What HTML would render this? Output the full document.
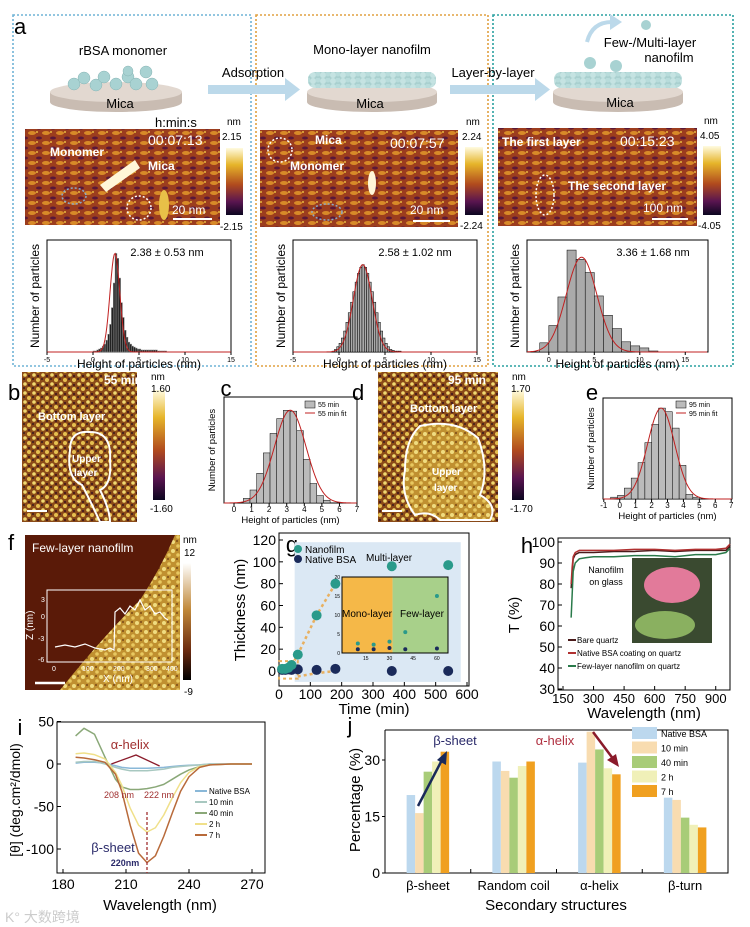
<!DOCTYPE html>
<html><head><meta charset="utf-8"><style>
html,body{margin:0;padding:0;background:#fff}
svg{display:block;font-family:"Liberation Sans",sans-serif}
</style></head><body>
<svg id="fig" width="750" height="927" viewBox="0 0 750 927" xmlns="http://www.w3.org/2000/svg">
<defs>
<linearGradient id="afmbar" x1="0" y1="0" x2="0" y2="1"><stop offset="0" stop-color="#fffbe0"/><stop offset=".25" stop-color="#e6b52a"/><stop offset=".55" stop-color="#b04a1e"/><stop offset=".8" stop-color="#5a1550"/><stop offset="1" stop-color="#0c0620"/></linearGradient>
<linearGradient id="fbar" x1="0" y1="0" x2="0" y2="1"><stop offset="0" stop-color="#fff"/><stop offset=".4" stop-color="#c0883a"/><stop offset=".75" stop-color="#6a2a10"/><stop offset="1" stop-color="#000"/></linearGradient>
<pattern id="tex1" width="14" height="10" patternUnits="userSpaceOnUse"><rect width="14" height="10" fill="#9c3d1e"/><ellipse cx="4" cy="3" rx="4" ry="2" fill="#d88a28"/><ellipse cx="11" cy="8" rx="3" ry="1.5" fill="#5a1838"/><circle cx="9" cy="2" r="1" fill="#e8b840"/></pattern>
<pattern id="tex2" width="9" height="9" patternUnits="userSpaceOnUse"><rect width="9" height="9" fill="#8a4a18"/><circle cx="2" cy="2" r="2" fill="#e6c050"/><circle cx="7" cy="6" r="1.8" fill="#f0d870"/><circle cx="6" cy="1" r="1" fill="#3a1a20"/><circle cx="2" cy="7" r="1.2" fill="#4a1c1c"/></pattern>
<pattern id="tex3" width="9" height="9" patternUnits="userSpaceOnUse"><rect width="9" height="9" fill="#c09030"/><circle cx="2" cy="2" r="2" fill="#f0dc80"/><circle cx="7" cy="6" r="1.8" fill="#e8c860"/><circle cx="6" cy="1" r="1" fill="#7a4a18"/></pattern>
<pattern id="bead" width="10" height="6" patternUnits="userSpaceOnUse"><rect width="10" height="6" fill="#a9d0cf"/><circle cx="3" cy="3" r="3" fill="#c5e3e2"/><circle cx="8" cy="2" r="2.5" fill="#b8dcdb"/></pattern>
</defs>

<g>
<rect x="13" y="15" width="238" height="351" fill="none" stroke="#6fb3d6" stroke-width="1.6" stroke-dasharray="2,2"/>
<rect x="256" y="15" width="232" height="351" fill="none" stroke="#e0a040" stroke-width="1.6" stroke-dasharray="2,2"/>
<rect x="493" y="15" width="240" height="351" fill="none" stroke="#2aa0a0" stroke-width="1.6" stroke-dasharray="2,2"/>
<text x="14" y="34" font-size="22">a</text>
<text x="123" y="55" font-size="13" text-anchor="middle">rBSA monomer</text>
<text x="372" y="54" font-size="13" text-anchor="middle">Mono-layer nanofilm</text>
<text x="650" y="47" font-size="13" text-anchor="middle">Few-/Multi-layer</text>
<text x="669" y="62" font-size="13" text-anchor="middle">nanofilm</text>
<text x="253" y="77" font-size="13" text-anchor="middle">Adsorption</text>
<text x="493" y="77" font-size="13" text-anchor="middle">Layer-by-layer</text>
<g fill="#bcd9ea">
<rect x="208" y="85" width="80" height="9"/><polygon points="285,78 300,89.5 285,101"/>
<rect x="450" y="85" width="90" height="9"/><polygon points="535,78 550,89.5 535,101"/>
<path d="M587,42 Q592,22 612,22" fill="none" stroke="#bcd9ea" stroke-width="4"/><polygon points="610,14 622,22 610,30"/>
</g>
<g>
<path d="M50,92 L50,102 A66,10 0 0 0 182,102 L182,92 Z" fill="#c9bcb2"/><ellipse cx="116" cy="92" rx="66" ry="10" fill="#e2d8d0"/>
<path d="M307,92 L307,102 A65,10 0 0 0 437,102 L437,92 Z" fill="#c9bcb2"/><ellipse cx="372" cy="92" rx="65" ry="10" fill="#e2d8d0"/>
<path d="M553,92 L553,102 A65,10 0 0 0 683,102 L683,92 Z" fill="#c9bcb2"/><ellipse cx="618" cy="92" rx="65" ry="10" fill="#e2d8d0"/>
<g fill="#a8d2d2" stroke="#88b4b4" stroke-width=".5"><circle cx="74" cy="84" r="6"/><circle cx="84" cy="78" r="6"/><circle cx="96" cy="85" r="6"/><circle cx="104" cy="77" r="6"/><circle cx="116" cy="84" r="6"/><circle cx="128" cy="77" r="6"/><circle cx="136" cy="84" r="6"/><circle cx="146" cy="72" r="6"/><circle cx="152" cy="84" r="6"/><circle cx="128" cy="71" r="5"/></g>
<rect x="308" y="72" width="128" height="16" rx="7" fill="url(#bead)"/>
<rect x="554" y="72" width="128" height="16" rx="7" fill="url(#bead)"/>
<circle cx="590" cy="63" r="6" fill="#a8d2d2"/><circle cx="616" cy="66" r="6" fill="#a8d2d2"/><circle cx="646" cy="25" r="5" fill="#a8d2d2"/>
<text x="120" y="108" font-size="13" text-anchor="middle">Mica</text>
<text x="370" y="108" font-size="13" text-anchor="middle">Mica</text>
<text x="620" y="107" font-size="13" text-anchor="middle">Mica</text>
</g>
<g>
<rect x="25" y="129" width="195" height="96" fill="url(#tex1)"/>
<path d="M100,185 L135,160 L140,168 L106,192Z" fill="#fff6d8"/>
<ellipse cx="164" cy="205" rx="5" ry="15" fill="#e8c048"/>
<ellipse cx="74" cy="196" rx="12" ry="8" fill="none" stroke="#8aa8c8" stroke-dasharray="2,2" stroke-width="1.5"/>
<circle cx="139" cy="208" r="12" fill="none" stroke="#fff" stroke-dasharray="2,2" stroke-width="1.5"/>
<text x="50" y="156" font-size="12" font-weight="bold" fill="#fff">Monomer</text>
<text x="148" y="170" font-size="12" font-weight="bold" fill="#fff">Mica</text>
<text x="148" y="145" font-size="14" fill="#fff">00:07:13</text>
<text x="155" y="127" font-size="13">h:min:s</text>
<line x1="173" y1="219" x2="212" y2="219" stroke="#fff" stroke-width="2"/><text x="172" y="214" font-size="12" fill="#fff">20 nm</text>
<rect x="226" y="148" width="17" height="67" fill="url(#afmbar)"/>
<text x="227" y="125" font-size="10">nm</text><text x="222" y="140" font-size="10">2.15</text><text x="220" y="230" font-size="10">-2.15</text>
</g>
<g>
<rect x="260" y="130" width="198" height="97" fill="url(#tex1)"/>
<ellipse cx="372" cy="183" rx="4" ry="12" fill="#fff6d8"/>
<ellipse cx="280" cy="150" rx="12" ry="12" fill="none" stroke="#fff" stroke-dasharray="2,2" stroke-width="1.5"/>
<ellipse cx="327" cy="212" rx="15" ry="8" fill="none" stroke="#8aa8c8" stroke-dasharray="2,2" stroke-width="1.5"/>
<text x="315" y="144" font-size="12" font-weight="bold" fill="#fff">Mica</text>
<text x="290" y="170" font-size="12" font-weight="bold" fill="#fff">Monomer</text>
<text x="390" y="148" font-size="14" fill="#fff">00:07:57</text>
<line x1="413" y1="221" x2="450" y2="221" stroke="#fff" stroke-width="2"/><text x="410" y="214" font-size="12" fill="#fff">20 nm</text>
<rect x="465" y="147" width="18" height="68" fill="url(#afmbar)"/>
<text x="466" y="125" font-size="10">nm</text><text x="462" y="140" font-size="10">2.24</text><text x="460" y="229" font-size="10">-2.24</text>
</g>
<g>
<rect x="498" y="128" width="199" height="98" fill="url(#tex1)"/>
<ellipse cx="545" cy="195" rx="9" ry="20" fill="none" stroke="#fff" stroke-dasharray="2,2" stroke-width="1.5"/>
<text x="502" y="146" font-size="12" font-weight="bold" fill="#fff">The first layer</text>
<text x="568" y="190" font-size="12" font-weight="bold" fill="#fff">The second layer</text>
<text x="620" y="146" font-size="14" fill="#fff">00:15:23</text>
<line x1="652" y1="219" x2="688" y2="219" stroke="#fff" stroke-width="2"/><text x="643" y="212" font-size="12" fill="#fff">100 nm</text>
<rect x="703" y="146" width="18" height="69" fill="url(#afmbar)"/>
<text x="704" y="124" font-size="10">nm</text><text x="700" y="139" font-size="10">4.05</text><text x="698" y="229" font-size="10">-4.05</text>
</g>
</g>

<g>
<text x="8" y="400" font-size="22">b</text>
<rect x="22" y="372" width="115" height="150" fill="url(#tex2)"/>
<path d="M70,450 Q70,430 90,432 Q112,432 110,460 Q112,485 100,490 Q110,510 110,522 L100,522 Q90,500 82,485 Q66,478 70,450Z" fill="none" stroke="#fff" stroke-width="2"/>
<text x="104" y="384" font-size="12" font-weight="bold" fill="#fff">55 min</text>
<text x="38" y="420" font-size="11" font-weight="bold" fill="#fff">Bottom layer</text>
<text x="72" y="462" font-size="10" font-weight="bold" fill="#fff">Upper</text><text x="74" y="476" font-size="10" font-weight="bold" fill="#fff">layer</text>
<line x1="27" y1="511" x2="47" y2="511" stroke="#fff" stroke-width="2"/>
<rect x="153" y="390" width="12" height="110" fill="url(#afmbar)"/>
<text x="151" y="380" font-size="10">nm</text><text x="151" y="392" font-size="10">1.60</text><text x="150" y="512" font-size="10">-1.60</text>
</g>
<g>
<text x="352" y="400" font-size="22">d</text>
<rect x="378" y="372" width="120" height="150" fill="url(#tex2)"/>
<path d="M420,426 Q455,418 478,438 Q490,470 480,495 Q498,505 490,520 L440,520 Q430,510 415,515 Q400,495 405,470 Q405,440 420,426Z" fill="url(#tex3)" stroke="#fff" stroke-width="2"/>
<text x="448" y="384" font-size="12" font-weight="bold" fill="#fff">95 min</text>
<text x="410" y="412" font-size="11" font-weight="bold" fill="#fff">Bottom layer</text>
<text x="432" y="475" font-size="10" font-weight="bold" fill="#fff">Upper</text><text x="434" y="491" font-size="10" font-weight="bold" fill="#fff">layer</text>
<line x1="382" y1="511" x2="402" y2="511" stroke="#fff" stroke-width="2"/>
<rect x="512" y="390" width="12" height="110" fill="url(#afmbar)"/>
<text x="512" y="380" font-size="10">nm</text><text x="511" y="392" font-size="10">1.70</text><text x="510" y="512" font-size="10">-1.70</text>
</g>

<g>
<text x="8" y="550" font-size="22">f</text>
<rect x="25" y="535" width="155" height="155" fill="#5a1a08"/>
<path d="M175,535 L180,535 L180,690 L60,690 Q100,640 140,600 Q160,570 175,535Z" fill="url(#tex3)"/>
<text x="32" y="552" font-size="12" fill="#fff">Few-layer nanofilm</text>
<rect x="47" y="590" width="125" height="72" fill="none" stroke="#fff" stroke-width="1"/>
<polyline points="55,647 65,645 75,647 85,644 95,648 105,650 110,648 114,650 115,612 120,608 125,614 130,606 135,610 140,600 145,610 150,606 155,614 160,612 165,618 168,620" fill="none" stroke="#fff" stroke-width="1.2"/>
<text x="41" y="602" font-size="7" fill="#fff">3</text><text x="41" y="619" font-size="7" fill="#fff">0</text><text x="38" y="641" font-size="7" fill="#fff">-3</text><text x="38" y="662" font-size="7" fill="#fff">-6</text>
<text x="52" y="671" font-size="7" fill="#fff">0</text><text x="82" y="671" font-size="7" fill="#fff">100</text><text x="113" y="671" font-size="7" fill="#fff">200</text><text x="146" y="671" font-size="7" fill="#fff">300</text><text x="166" y="671" font-size="7" fill="#fff">400</text>
<text x="103" y="682" font-size="10" fill="#fff">X (nm)</text>
<text x="33" y="640" font-size="10" fill="#fff" transform="rotate(-90 33 640)">Z (nm)</text>
<line x1="35" y1="683" x2="65" y2="683" stroke="#fff" stroke-width="2.5"/>
<rect x="183" y="563" width="8" height="117" fill="url(#fbar)"/>
<text x="183" y="543" font-size="10">nm</text><text x="184" y="556" font-size="10">12</text><text x="184" y="695" font-size="10">-9</text>
</g>

<g id="charts"></g>
<text x="5" y="922" font-size="14" fill="#ccc">K° 大数跨境</text>
</svg>
<script>
// ---------- DATA ----------
const histA1Counts=[1,1,2,3,4,6,8,12,18,28,45,70,100,95,75,50,35,22,15,10,8,6,5,4,3,3,2,2,2,2,2,2,2,2,2,1,1,1,1,1];
const histA2Counts=[1,3,6,10,16,24,34,45,57,69,80,90,97,100,97,90,80,69,57,45,34,24,16,10,6,3,2,1,1,1];
const histA3Counts=[9,26,54,100,91,78,55,36,23,10,6,4,1];
const histCCounts=[5,14,32,54,75,91,100,99,78,47,21,8,3];
const histECounts=[2,4,12,23,40,62,82,100,96,78,37,5,2];
const histTicksA=[-5,0,5,10,15];
const histTicksA3=[0,5,10,15];
const histTicksC=[0,1,2,3,4,5,6,7];
const histTicksE=[-1,0,1,2,3,4,5,6,7];
const fitStats={a1:[2.38,0.53],a2:[2.58,1.02],a3:[3.6,1.68],c:[3.2,0.9],e:[2.6,0.85]};

const gTime=[10,20,30,40,60,120,180,360,540];
const gNanofilm=[2,2,3,5.5,15,51,80,96,97];
const gNative=[1,1,1.5,1,1.5,1,2,0,0];
const gTicksX=[0,100,200,300,400,500,600];
const gTicksY=[0,20,40,60,80,100,120];
const gInsetTime=[10,20,30,40,60];
const gInsetFilm=[2.5,2.2,3.0,5.5,15];
const gInsetNative=[1,1,1.3,1,1.2];

const hWave=[190,195,200,210,230,260,300,400,500,600,700,800,900,950,970];
const hBare=[78,85,92,94,95,95,95,95.5,95.5,96,95.5,96,96,96,98];
const hNative=[80,88,93,95,96,96,96,96,96.5,96.5,96,96.5,96.5,97,99];
const hFew=[64,75,86,90,92,92.5,93,93,93.5,93.5,93,94,94,95,97];
const hTicksX=[150,300,450,600,750,900];
const hTicksY=[30,40,50,60,70,80,90,100];

const iWave=[186,190,195,200,205,208,212,216,220,224,228,232,236,240,245,250,260,270];
const iNative=[1,2,2,1,-2,-4,-5,-5,-5,-4.5,-4,-3,-2,-1.5,-1,0,0,0];
const i10min=[2,3,3,0,-4,-6,-8,-8,-8,-7,-6,-4,-3,-2,-1,0,0,0];
const i40min=[33,42,35,8,-18,-27,-30,-30,-29,-27,-24,-18,-12,-7,-3,-1,0,0];
const i2h=[12,13,11,6,-10,-25,-52,-72,-80,-75,-60,-40,-22,-10,-3,-1,0,0];
const i7h=[8,7,5,2,-12,-32,-72,-105,-116,-108,-85,-58,-32,-15,-4,-1,0,0];
const iTicksX=[180,210,240,270];
const iTicksY=[-100,-50,0,50];

const jCategories=["β-sheet","Random coil","α-helix","β-turn"];
const jNative=[20.7,29.6,29.3,20];
const j10min=[15.9,27.1,37.5,19.4];
const j40min=[26.9,25.3,32.8,14.7];
const j2h=[29.6,28.4,27.8,12.8];
const j7h=[32.2,29.6,26.2,12.1];
const jTicksY=[0,15,30];

// ---------- helpers ----------
const NS="http://www.w3.org/2000/svg";
const root=document.getElementById('charts');
function mk(tag,parent,name){
  const el=document.createElementNS(NS,tag);
  
  
  parent.appendChild(el);
  return el;
}
function set(el,o){for(const k in o)el.setAttribute(k,o[k]);return el;}
function txt(parent,name,x,y,s,size,anchor,extra){
  const t=mk('text',parent,name);
  set(t,{x:x,y:y,'font-size':size,'text-anchor':anchor||'middle'});
  if(extra)set(t,extra);
  t.textContent=s;return t;
}
function lin(d0,d1,r0,r1){return v=>r0+(v-d0)*(r1-r0)/(d1-d0);}

function histogram(name,box,xd,start,bw,counts,ticks,fit,barFill,opts){
  const g=mk('g',root,name);
  const X=lin(xd[0],xd[1],box.x,box.x+box.w);
  const Y=lin(0,100,box.y+box.h,box.y+box.h*(opts.top||0.1));
  const fr=mk('rect',g,'plot-frame');set(fr,{x:box.x,y:box.y,width:box.w,height:box.h,fill:'none',stroke:'#000','stroke-width':1});
  counts.forEach((c,i)=>{
    const b=mk('rect',g,'histogram-bar');
    const x0=X(start+i*bw),x1=X(start+(i+1)*bw);
    set(b,{x:x0,y:Y(c),width:Math.max(0.5,x1-x0),height:Y(0)-Y(c),fill:barFill,stroke:opts.bs||'#000','stroke-width':0.5});
  });
  const amp=opts.amp||100;
  const pts=[];
  for(let v=xd[0];v<=xd[1];v+=(xd[1]-xd[0])/200){pts.push(X(v)+','+Y(amp*Math.exp(-0.5*Math.pow((v-fit[0])/fit[1],2))));}
  const p=mk('polyline',g,'gaussian-fit');set(p,{points:pts.join(' '),fill:'none',stroke:'#c02020','stroke-width':1});
  ticks.forEach(t=>{
    const l=mk('line',g,'x-tick');set(l,{x1:X(t),x2:X(t),y1:box.y+box.h,y2:box.y+box.h+3,stroke:'#000'});
    txt(g,'x-tick-label',X(t),box.y+box.h+opts.tl,t,opts.fs);
  });
  txt(g,'x-axis-title',box.x+box.w/2,box.y+box.h+opts.xt,'Height of particles (nm)',opts.ts);
  txt(g,'y-axis-title',box.x-opts.yo,box.y+box.h/2,'Number of particles',opts.ts,'middle',{transform:`rotate(-90 ${box.x-opts.yo} ${box.y+box.h/2})`});
  return g;
}
const oA={tl:10,xt:16,yo:8,fs:7,ts:12,top:0.12};
let h1=histogram('histogram-a1',{x:47,y:240,w:184,h:112},[-5,15],0,0.2,histA1Counts,histTicksA,fitStats.a1,'#222',{...oA,bs:'#888'});
txt(h1,'stat-label',167,256,'2.38 ± 0.53 nm',11);
let h2=histogram('histogram-a2',{x:293,y:240,w:184,h:112},[-5,15],-0.75,0.25,histA2Counts,histTicksA,fitStats.a2,'#aaa',{...oA,top:0.22});
txt(h2,'stat-label',415,256,'2.58 ± 1.02 nm',11);
let h3=histogram('histogram-a3',{x:527,y:240,w:181,h:112},[-2.4,17.5],-1,1,histA3Counts,histTicksA3,fitStats.a3,'#aaa',{...oA,top:0.09,amp:93});
txt(h3,'stat-label',653,256,'3.36 ± 1.68 nm',11);
const oC={tl:9,xt:20,yo:9,fs:8,ts:9.5,top:0.125};
let hc=histogram('histogram-c',{x:224,y:397,w:133,h:106},[-0.57,7],0.53,0.38,histCCounts,histTicksC,fitStats.c,'#bbb',oC);
txt(hc,'panel-label',226,396,'c',22,'middle');
let he=histogram('histogram-e',{x:603,y:398,w:129,h:101},[-1.05,7.05],-0.57,0.43,histECounts,histTicksE,fitStats.e,'#bbb',{...oC,top:0.1});
txt(he,'panel-label',592,400,'e',22,'middle');
[[hc,'55 min',305],[he,'95 min',676]].forEach(([g,lab,lx])=>{
  const r=mk('rect',g,'legend-swatch');set(r,{x:lx,y:401,width:10,height:7,fill:'#bbb',stroke:'#000','stroke-width':.5});
  txt(g,'legend-label',lx+13,407,lab,7,'start');
  const l=mk('line',g,'legend-fit-line');set(l,{x1:lx,x2:lx+10,y1:413,y2:413,stroke:'#c02020'});
  txt(g,'legend-label',lx+13,416,lab+' fit',7,'start');
});

// ---------- panel g ----------
(function(){
  const g=mk('g',root,'chart-g');
  const X=lin(0,600,279,467),Y=lin(0,120,671,540);
  txt(g,'panel-label',292,552,'g',22);
  const bg=mk('rect',g,'multilayer-region');set(bg,{x:X(50),y:Y(118),width:X(580)-X(50),height:Y(-10)-Y(118),fill:'#dbe8f4'});
  const fr=mk('rect',g,'plot-frame');set(fr,{x:279,y:533,width:190,height:153,fill:'none',stroke:'#000'});
  gTicksX.forEach(t=>{const l=mk('line',g,'x-tick');set(l,{x1:X(t),x2:X(t),y1:686,y2:682,stroke:'#000'});txt(g,'x-tick-label',X(t),699,t,14);});
  gTicksY.forEach(t=>{const l=mk('line',g,'y-tick');set(l,{x1:279,x2:283,y1:Y(t),y2:Y(t),stroke:'#000'});txt(g,'y-tick-label',276,Y(t)+5,t,14,'end');});
  txt(g,'x-axis-title',374,714,'Time (min)',15);
  txt(g,'y-axis-title',245,610,'Thickness (nm)',15,'middle',{transform:'rotate(-90 245 610)'});
  const tr1=mk('polyline',g,'trend-nanofilm');set(tr1,{points:[[40,5],[60,15],[120,51],[180,80]].map(p=>X(p[0])+','+Y(p[1])).join(' '),fill:'none',stroke:'#e8b060','stroke-width':2.5,'stroke-dasharray':'3,3'});
  const tr2=mk('polyline',g,'trend-native');set(tr2,{points:[[60,-5],[120,-2],[180,0]].map(p=>X(p[0])+','+Y(p[1])).join(' ')+' '+X(190)+','+Y(2),fill:'none',stroke:'#e8b060','stroke-width':2.5,'stroke-dasharray':'3,3'});
  const box=mk('rect',g,'lowtime-box');set(box,{x:X(0),y:Y(9),width:X(60)-X(0),height:Y(-7)-Y(9),fill:'none',stroke:'#e8b060','stroke-width':2,'stroke-dasharray':'3,3'});
  gTime.forEach((t,i)=>{const c=mk('circle',g,'point-native');set(c,{cx:X(t),cy:Y(gNative[i]),r:5,fill:'#1a2a5a'});});
  gTime.forEach((t,i)=>{const c=mk('circle',g,'point-nanofilm');set(c,{cx:X(t),cy:Y(gNanofilm[i]),r:5,fill:'#2a9a8a'});});
  const c1=mk('circle',g,'legend-nanofilm-marker');set(c1,{cx:298,cy:549,r:4,fill:'#2a9a8a'});
  txt(g,'legend-nanofilm',305,553,'Nanofilm',10,'start');
  const c2=mk('circle',g,'legend-native-marker');set(c2,{cx:298,cy:559,r:4,fill:'#1a2a5a'});
  txt(g,'legend-native',305,563,'Native BSA',10,'start');
  txt(g,'multilayer-label',366,561,'Multi-layer',10,'start');
  const IX=lin(0,67,342,448),IY=lin(0,20,653,577);
  const o=mk('rect',g,'inset-monolayer-region');set(o,{x:342,y:577,width:IX(32)-342,height:76,fill:'#f5b848'});
  const gr=mk('rect',g,'inset-fewlayer-region');set(gr,{x:IX(32),y:577,width:448-IX(32),height:76,fill:'#a8d08a'});
  const ifr=mk('rect',g,'inset-frame');set(ifr,{x:342,y:577,width:106,height:76,fill:'none',stroke:'#000'});
  txt(g,'inset-mono-label',367,617,'Mono-layer',10);
  txt(g,'inset-few-label',422,617,'Few-layer',10);
  [15,30,45,60].forEach(t=>txt(g,'inset-x-tick',IX(t),660,t,5));
  [0,5,10,15,20].forEach(t=>txt(g,'inset-y-tick',340,IY(t)+2,t,5,'end'));
  gInsetTime.forEach((t,i)=>{const c=mk('circle',g,'inset-point-native');set(c,{cx:IX(t),cy:IY(gInsetNative[i]),r:2,fill:'#1a2a5a'});});
  gInsetTime.forEach((t,i)=>{const c=mk('circle',g,'inset-point-nanofilm');set(c,{cx:IX(t),cy:IY(gInsetFilm[i]),r:2,fill:'#2a9a8a'});});
})();

// ---------- panel h ----------
(function(){
  const g=mk('g',root,'chart-h');
  const X=lin(150,975,563,731),Y=lin(30,100,689,542);
  txt(g,'panel-label',527,553,'h',22);
  const fr=mk('rect',g,'plot-frame');set(fr,{x:558,y:538,width:172,height:152,fill:'none',stroke:'#000'});
  hTicksX.forEach(t=>{const l=mk('line',g,'x-tick');set(l,{x1:X(t),x2:X(t),y1:690,y2:686,stroke:'#000'});txt(g,'x-tick-label',X(t),703,t,13);});
  hTicksY.forEach(t=>{const l=mk('line',g,'y-tick');set(l,{x1:558,x2:562,y1:Y(t),y2:Y(t),stroke:'#000'});txt(g,'y-tick-label',555,Y(t)+5,t,14,'end');});
  txt(g,'x-axis-title',644,718,'Wavelength (nm)',15);
  txt(g,'y-axis-title',519,615,'T (%)',15,'middle',{transform:'rotate(-90 519 615)'});
  const photo=mk('rect',g,'flower-photo');set(photo,{x:632,y:558,width:80,height:85,fill:'#3a4a30'});
  const pet=mk('ellipse',g,'flower-petals');set(pet,{cx:672,cy:585,rx:28,ry:18,fill:'#e27a9a'});
  const leaf=mk('ellipse',g,'flower-leaves');set(leaf,{cx:665,cy:625,rx:30,ry:14,fill:'#8ab060'});
  txt(g,'nanofilm-label',606,573,'Nanofilm',9);txt(g,'glass-label',606,585,'on glass',9);
  [[hBare,'#4a1a1a','series-bare-quartz'],[hNative,'#b03030','series-native-bsa'],[hFew,'#2a7a4a','series-few-layer']].forEach(([arr,col,nm])=>{
    const p=mk('polyline',g,nm);set(p,{points:hWave.map((w,i)=>X(w)+','+Y(arr[i])).join(' '),fill:'none',stroke:col,'stroke-width':1.5});
  });
  [['Bare quartz','#4a1a1a'],['Native BSA coating on quartz','#b03030'],['Few-layer nanofilm on quartz','#2a7a4a']].forEach(([lab,col],k)=>{
    const y=640+k*13;
    const l=mk('line',g,'legend-line');set(l,{x1:568,x2:576,y1:y,y2:y,stroke:col,'stroke-width':2});
    txt(g,'legend-label',577,y+3,lab,8,'start');
  });
})();

// ---------- panel i ----------
(function(){
  const g=mk('g',root,'chart-i');
  const X=lin(180,270,63,252),Y=lin(0,-100,764,849);
  txt(g,'panel-label',20,735,'i',22);
  const fr=mk('rect',g,'plot-frame');set(fr,{x:57,y:722,width:208,height:151,fill:'none',stroke:'#000'});
  iTicksX.forEach(t=>{const l=mk('line',g,'x-tick');set(l,{x1:X(t),x2:X(t),y1:873,y2:869,stroke:'#000'});txt(g,'x-tick-label',X(t),889,t,14);});
  iTicksY.forEach(t=>{const l=mk('line',g,'y-tick');set(l,{x1:57,x2:61,y1:Y(t),y2:Y(t),stroke:'#000'});txt(g,'y-tick-label',54,Y(t)+5,t,14,'end');});
  txt(g,'x-axis-title',160,910,'Wavelength (nm)',15);
  txt(g,'y-axis-title',20,800,'[θ] (deg.cm²/dmol)',14,'middle',{transform:'rotate(-90 20 800)'});
  const series=[[iNative,'#8ab8d8','series-native-bsa'],[i10min,'#a8c8c0','series-10-min'],[i40min,'#8aa878','series-40-min'],[i2h,'#f0e08a','series-2-h'],[i7h,'#b86a3a','series-7-h']];
  series.forEach(([arr,col,nm])=>{
    const p=mk('polyline',g,nm);set(p,{points:iWave.map((w,i)=>X(w)+','+Y(arr[i])).join(' '),fill:'none',stroke:col,'stroke-width':1.5,'stroke-linejoin':'round'});
  });
  const dl=mk('line',g,'beta-sheet-marker');set(dl,{x1:X(220),x2:X(220),y1:812,y2:873,stroke:'#a03030','stroke-dasharray':'3,2','stroke-width':1.3});
  txt(g,'alpha-helix-label',130,749,'α-helix',13,'middle',{fill:'#a03030'});
  const a1=mk('polyline',g,'alpha-arrow');set(a1,{points:`${X(203)},764 136,755 ${X(226)},766`,fill:'none',stroke:'#8a1a2a','stroke-width':1.3});
  txt(g,'label-208nm',119,798,'208 nm',9,'middle',{fill:'#a03030'});
  txt(g,'label-222nm',159,798,'222 nm',9,'middle',{fill:'#a03030'});
  txt(g,'beta-sheet-label',113,852,'β-sheet',13,'middle',{fill:'#2a2a6a'});
  txt(g,'label-220nm',125,866,'220nm',9,'middle',{fill:'#2a2a6a','font-weight':'bold'});
  [['Native BSA','#8ab8d8'],['10 min','#a8c8c0'],['40 min','#8aa878'],['2 h','#f0e08a'],['7 h','#b86a3a']].forEach(([lab,col],k)=>{
    const y=791+k*11;
    const l=mk('line',g,'legend-line');set(l,{x1:195,x2:207,y1:y,y2:y,stroke:col,'stroke-width':2});
    txt(g,'legend-label',209,y+3,lab,8,'start');
  });
})();

// ---------- panel j ----------
(function(){
  const g=mk('g',root,'chart-j');
  const Y=lin(0,30,873,760);
  const x0=385,x1=728,cw=(x1-x0)/4;
  txt(g,'panel-label',350,733,'j',22);
  const ax=mk('polyline',g,'axes');set(ax,{points:`${x0},730 ${x0},873 ${x1},873 ${x1},730 ${x0},730`,fill:'none',stroke:'#000'});
  jTicksY.forEach(t=>{const l=mk('line',g,'y-tick');set(l,{x1:x0-3,x2:x0,y1:Y(t),y2:Y(t),stroke:'#000'});txt(g,'y-tick-label',x0-5,Y(t)+5,t,14,'end');});
  txt(g,'y-axis-title',360,800,'Percentage (%)',15,'middle',{transform:'rotate(-90 360 800)'});
  txt(g,'x-axis-title',556,910,'Secondary structures',15);
  const series=[[jNative,'#bcd8ee'],[j10min,'#f8dcb0'],[j40min,'#a8cc78'],[j2h,'#f0f0b8'],[j7h,'#f0a020']];
  const bw=8.5;
  jCategories.forEach((c,ci)=>{
    const cx=x0+cw*(ci+0.5);
    txt(g,'category-label',cx,890,c,13);
    const tk=mk('line',g,'x-tick');set(tk,{x1:x0+cw*(ci+1),x2:x0+cw*(ci+1),y1:873,y2:869,stroke:'#000'});
    series.forEach(([arr,col],si)=>{
      const b=mk('rect',g,'bar');
      set(b,{x:cx-2.5*bw+si*bw,y:Y(arr[ci]),width:bw,height:Y(0)-Y(arr[ci]),fill:col});
    });
  });
  txt(g,'beta-sheet-label',455,745,'β-sheet',13,'middle',{fill:'#2a2a6a'});
  const ab=mk('line',g,'beta-arrow');set(ab,{x1:418,y1:806,x2:443,y2:758,stroke:'#1a2a5a','stroke-width':2.5});
  const abh=mk('polygon',g,'beta-arrowhead');set(abh,{points:'447,751 446,765 437,760',fill:'#1a2a5a'});
  txt(g,'alpha-helix-label',555,745,'α-helix',13,'middle',{fill:'#b03040'});
  const ar=mk('line',g,'alpha-arrow');set(ar,{x1:593,y1:732,x2:614,y2:760,stroke:'#8a1a2a','stroke-width':2.5});
  const arh=mk('polygon',g,'alpha-arrowhead');set(arh,{points:'619,767 607,760 616,754',fill:'#8a1a2a'});
  [['Native BSA','#bcd8ee'],['10 min','#f8dcb0'],['40 min','#a8cc78'],['2 h','#f0f0b8'],['7 h','#f0a020']].forEach(([lab,col],k)=>{
    const y=727+k*14.5;
    const r=mk('rect',g,'legend-swatch');set(r,{x:632,y:y,width:25,height:12,fill:col});
    txt(g,'legend-label',661,y+10,lab,9,'start');
  });
})();
</script>
</body></html>
